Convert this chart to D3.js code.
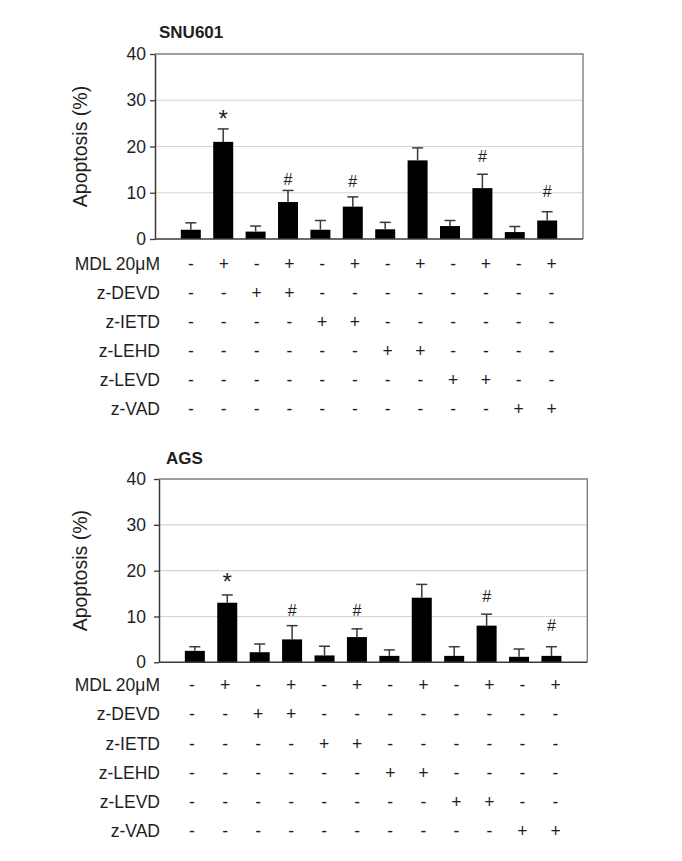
<!DOCTYPE html>
<html>
<head>
<meta charset="utf-8">
<script src="https://cdn.jsdelivr.net/npm/d3@7"></script>
<style>
  html, body { margin: 0; padding: 0; background: #fff; }
  svg { display: block; }
  text { font-family: "Liberation Sans", Arial, sans-serif; fill: #1e1e1e; }
</style>
</head>
<body>
<svg id="chart" width="682" height="861"></svg>
<script>
// ---------------- data ----------------
const categories = ["Control", "MDL", "DEVD", "MDL+DEVD", "IETD", "MDL+IETD",
                    "LEHD", "MDL+LEHD", "LEVD", "MDL+LEVD", "VAD", "MDL+VAD"];
const yTicks = [0, 10, 20, 30, 40];

const snuMean = [2.0, 21.0, 1.6, 8.0, 2.0, 7.0, 2.1, 17.0, 2.8, 11.0, 1.5, 4.0];
const snuErr  = [1.5, 2.8, 1.2, 2.5, 2.0, 2.1, 1.5, 2.7, 1.2, 3.0, 1.2, 1.9];
const agsMean = [2.5, 13.0, 2.2, 5.0, 1.5, 5.5, 1.4, 14.1, 1.4, 8.0, 1.2, 1.4];
const agsErr  = [0.9, 1.7, 1.8, 3.0, 2.0, 1.8, 1.3, 2.9, 2.0, 2.5, 1.7, 2.0];

const sigMarks = ["", "*", "", "#", "", "#", "", "", "", "#", "", "#"];
const snuSigLevel = [null, 27.2, null, 12.9, null, 12.5, null, null, null, 17.8, null, 10.4];
const agsSigLevel = [null, 18.7, null, 11.4, null, 11.3, null, null, null, 14.3, null, 8.0];

const rowLabels = ["MDL 20μM", "z-DEVD", "z-IETD", "z-LEHD", "z-LEVD", "z-VAD"];
const rowMDL  = ["-", "+", "-", "+", "-", "+", "-", "+", "-", "+", "-", "+"];
const rowDEVD = ["-", "-", "+", "+", "-", "-", "-", "-", "-", "-", "-", "-"];
const rowIETD = ["-", "-", "-", "-", "+", "+", "-", "-", "-", "-", "-", "-"];
const rowLEHD = ["-", "-", "-", "-", "-", "-", "+", "+", "-", "-", "-", "-"];
const rowLEVD = ["-", "-", "-", "-", "-", "-", "-", "-", "+", "+", "-", "-"];
const rowVAD  = ["-", "-", "-", "-", "-", "-", "-", "-", "-", "-", "+", "+"];
const tableRows = [rowMDL, rowDEVD, rowIETD, rowLEHD, rowLEVD, rowVAD];

// ---------------- drawing ----------------
const svg = d3.select("#chart");

function drawPanel(cfg) {
  const g = svg.append("g");
  const x = d3.scaleBand().domain(categories).range([cfg.x0, cfg.x1])
    .paddingInner(0.383).paddingOuter(0.797);
  const y = d3.scaleLinear().domain([0, 40]).range([cfg.y1, cfg.y0]);

  // gridlines
  g.append("g").selectAll("line").data(yTicks.filter(t => t > 0 && t < 40)).join("line")
    .attr("x1", cfg.x0).attr("x2", cfg.x1)
    .attr("y1", d => y(d)).attr("y2", d => y(d))
    .attr("stroke", "#d4d4d4").attr("stroke-width", 1.2);

  // frame top and right
  g.append("path")
    .attr("d", `M${cfg.x0},${y(40)}H${cfg.x1}V${y(0)}`)
    .attr("fill", "none").attr("stroke", "#808080").attr("stroke-width", 1.4);

  // left axis
  const ax = g.append("g").attr("transform", `translate(${cfg.x0},0)`)
    .call(d3.axisLeft(y).tickValues(yTicks).tickSize(5).tickPadding(cfg.tickPad).tickSizeOuter(0));
  ax.select(".domain").attr("stroke", "#3a3a3a").attr("stroke-width", 1.5);
  ax.selectAll(".tick line").attr("stroke", "#3a3a3a").attr("stroke-width", 1.3);
  ax.selectAll(".tick text").attr("font-size", 17.5).attr("fill", "#1e1e1e")
    .style("font-family", "'Liberation Sans', Arial, sans-serif");

  // bars
  g.append("g").selectAll("rect").data(cfg.mean).join("rect")
    .attr("x", (d, i) => x(categories[i]))
    .attr("width", x.bandwidth())
    .attr("y", d => y(d))
    .attr("height", d => y(0) - y(d))
    .attr("fill", "#000");

  // error bars (upper only)
  const eg = g.append("g").attr("stroke", "#3a3a3a").attr("stroke-width", 1.5);
  cfg.mean.forEach((m, i) => {
    const cx = x(categories[i]) + x.bandwidth() / 2;
    eg.append("line").attr("x1", cx).attr("x2", cx).attr("y1", y(m)).attr("y2", y(m + cfg.err[i]));
    eg.append("line").attr("x1", cx - 5.5).attr("x2", cx + 5.5)
      .attr("y1", y(m + cfg.err[i])).attr("y2", y(m + cfg.err[i]));
  });

  // bottom axis line
  g.append("line").attr("x1", cfg.x0).attr("x2", cfg.x1)
    .attr("y1", y(0)).attr("y2", y(0))
    .attr("stroke", "#3a3a3a").attr("stroke-width", 1.6);

  // significance markers
  g.append("g").selectAll("text").data(sigMarks.map((m, i) => ({m, i, lv: cfg.sig[i]})).filter(d => d.m))
    .join("text")
    .attr("x", d => x(categories[d.i]) + x.bandwidth() / 2)
    .attr("y", d => y(d.lv) + (d.m === "*" ? 13.5 : 5.6))
    .attr("text-anchor", "middle")
    .attr("font-size", d => d.m === "*" ? 24 : 16)
    .attr("fill", "#333")
    .text(d => d.m);

  // title
  g.append("text").attr("x", cfg.titleX).attr("y", cfg.titleY)
    .attr("font-size", 17).attr("font-weight", "bold").attr("fill", "#111")
    .text(cfg.title);

  // y label
  g.append("text")
    .attr("transform", `translate(${cfg.ylabX},${(cfg.y0 + cfg.y1) / 2}) rotate(-90)`)
    .attr("text-anchor", "middle").attr("font-size", 19.5)
    .text("Apoptosis (%)");

  // treatment table
  const tx = d3.scalePoint().domain(categories).range([cfg.tabX0, cfg.tabX1]);
  const ty = d3.scaleLinear().domain([0, 5]).range([cfg.tabY0, cfg.tabY1]);
  const tg = g.append("g");
  rowLabels.forEach((lab, r) => {
    tg.append("text").attr("x", 160).attr("y", ty(r))
      .attr("text-anchor", "end").attr("font-size", 17.5).text(lab);
    tg.append("g").selectAll("text").data(tableRows[r]).join("text")
      .attr("x", (d, i) => tx(categories[i]))
      .attr("y", ty(r))
      .attr("text-anchor", "middle").attr("font-size", 17.5)
      .text(d => d);
  });
}

drawPanel({
  title: "SNU601", mean: snuMean, err: snuErr, sig: snuSigLevel,
  x0: 155, x1: 583, y0: 54, y1: 239, tickPad: 4,
  titleX: 159, titleY: 37.5, ylabX: 87,
  tabX0: 191, tabX1: 551.5, tabY0: 269.5, tabY1: 414.5
});
drawPanel({
  title: "AGS", mean: agsMean, err: agsErr, sig: agsSigLevel,
  x0: 159, x1: 587.3, y0: 479, y1: 662.3, tickPad: 8,
  titleX: 166, titleY: 464, ylabX: 87,
  tabX0: 192, tabX1: 555.5, tabY0: 691.3, tabY1: 837
});
</script>
</body>
</html>
